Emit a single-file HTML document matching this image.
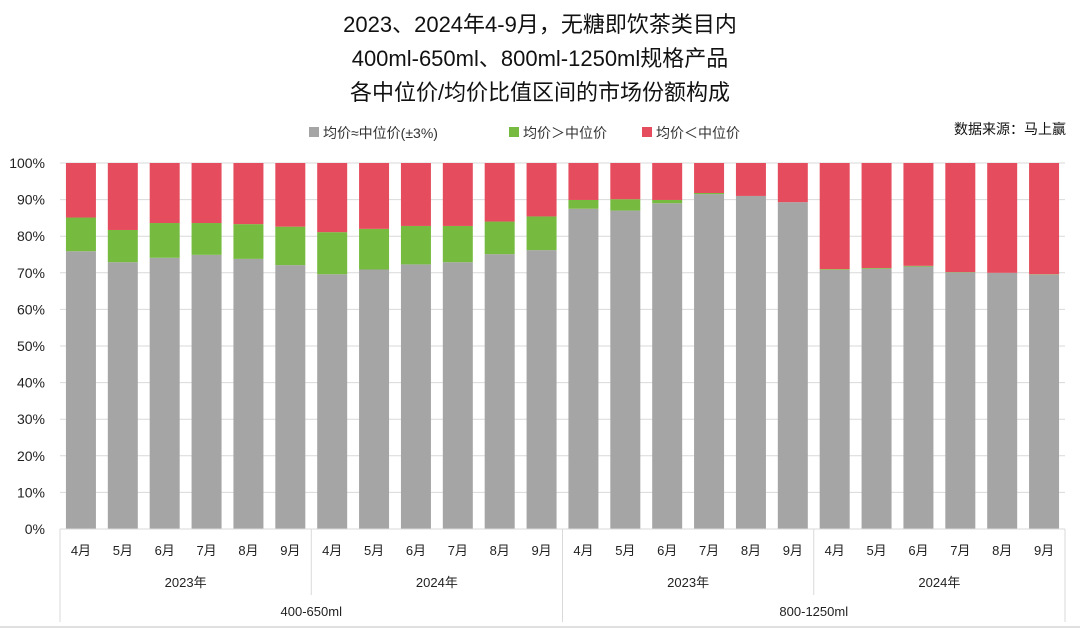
<!DOCTYPE html>
<html><head><meta charset="utf-8">
<style>
html,body{margin:0;padding:0;background:#fff;}
svg{display:block;font-family:"Liberation Sans","Noto Sans CJK SC",sans-serif;}
</style></head>
<body>
<svg id="chart" width="1080" height="629" viewBox="0 0 1080 629" xmlns="http://www.w3.org/2000/svg">
<rect x="0" y="0" width="1080" height="629" fill="#fff"/>
<g font-size="22" fill="#111" text-anchor="middle" font-family="'Liberation Sans','Noto Sans CJK SC',sans-serif">
<text x="540" y="32">2023、2024年4-9月，无糖即饮茶类目内</text>
<text x="540" y="66">400ml-650ml、800ml-1250ml规格产品</text>
<text x="540" y="100">各中位价/均价比值区间的市场份额构成</text>
</g>
<g font-size="14" fill="#333">
<rect x="309" y="127" width="10" height="10" fill="#a5a5a5"/>
<text x="323" y="138">均价≈中位价(±3%)</text>
<rect x="509" y="127" width="10" height="10" fill="#76bb40"/>
<text x="523" y="138">均价＞中位价</text>
<rect x="642" y="127" width="10" height="10" fill="#e54d5e"/>
<text x="656" y="138">均价＜中位价</text>
</g>
<text x="1066" y="134" text-anchor="end" font-size="14" fill="#111">数据来源：马上赢</text>
<g id="grid"></g>
<g id="yaxis" font-size="14" fill="#222" text-anchor="end"></g>
<g id="bars"></g>
<g id="xaxis" font-size="13" fill="#222" text-anchor="middle"></g>
<line x1="0" y1="627" x2="1080" y2="627" stroke="#e0e0e0" stroke-width="2"/>
</svg>
<script>
const months = ["4月","5月","6月","7月","8月","9月","4月","5月","6月","7月","8月","9月","4月","5月","6月","7月","8月","9月","4月","5月","6月","7月","8月","9月"];
const years = ["2023年","2024年","2023年","2024年"];
const groups = ["400-650ml","800-1250ml"];
const equalShare = [75.9,72.9,74.1,74.9,73.8,72.1,69.6,70.9,72.3,72.9,75.1,76.2,87.5,87.0,89.0,91.5,91.0,89.3,70.8,71.1,71.7,70.1,70.0,69.5];
const aboveShare = [9.2,8.8,9.5,8.7,9.5,10.5,11.5,11.1,10.5,9.9,8.9,9.2,2.4,3.1,0.9,0.3,0.0,0.0,0.2,0.2,0.2,0.1,0.0,0.1];
const belowShare = equalShare.map((v,i)=>100-v-aboveShare[i]);
const yTicks = [0,10,20,30,40,50,60,70,80,90,100];

const NS="http://www.w3.org/2000/svg";
const L=60,R=1065,T=163,B=529;
const n=months.length, cw=(R-L)/n, bw=30;
const y=v=>B-(v/100)*(B-T);
const x=i=>L+i*cw;
function mk(tag,attrs,parent){const e=document.createElementNS(NS,tag);for(const k in attrs)e.setAttribute(k,attrs[k]);parent.appendChild(e);return e;}
const grid=document.getElementById('grid'),ya=document.getElementById('yaxis'),bars=document.getElementById('bars'),xa=document.getElementById('xaxis');
yTicks.forEach(t=>{
  const ln=mk('line',{x1:L,x2:R,y1:y(t),y2:y(t),stroke:'#d9d9d9','stroke-width':1},grid);
  
  
  const tx=mk('text',{x:45,y:y(t)+5},ya);tx.textContent=t+'%';
  
  
});
const cols=['#a5a5a5','#76bb40','#e54d5e'];
for(let i=0;i<n;i++){
  const bx=x(i)+(cw-bw)/2;
  const segs=[equalShare[i],aboveShare[i],belowShare[i]];
  const names=['equal','above','below'];
  let acc=0;
  segs.forEach((v,k)=>{
    const r=mk('rect',{x:bx,y:y(acc+v),width:bw,height:Math.max(0,y(acc)-y(acc+v)),fill:cols[k]},bars);
    
    
    acc+=v;
  });
  const t=mk('text',{x:x(i)+cw/2,y:555},xa);t.textContent=months[i];
  
  
}
mk('line',{x1:L,x2:R,y1:B,y2:B,stroke:'#d9d9d9'},xa);
[0,6,12,18,24].forEach(k=>{
  const full=(k%12===0);
  mk('line',{x1:x(k),x2:x(k),y1:B,y2:full?622:595,stroke:'#d9d9d9'},xa);
});
years.forEach((yr,j)=>{
  const t=mk('text',{x:x(j*6+3),y:587},xa);t.textContent=yr;
  
  
});
groups.forEach((g,j)=>{
  const t=mk('text',{x:x(j*12+6),y:616},xa);t.textContent=g;
  
  
});
</script>
</body></html>
